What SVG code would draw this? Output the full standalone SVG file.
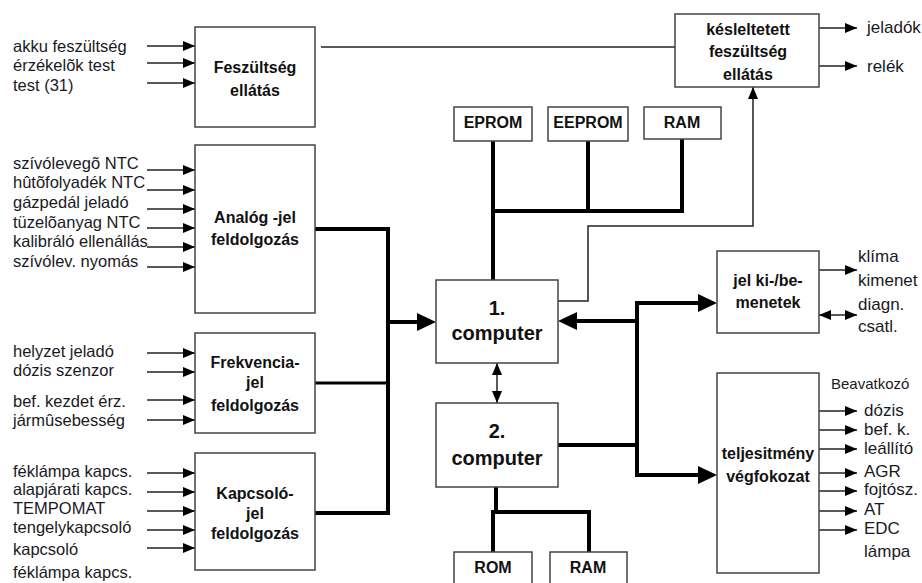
<svg xmlns="http://www.w3.org/2000/svg" width="922" height="583" viewBox="0 0 922 583">
<style>
.bg{fill:#fff}
.box{fill:#fff;stroke:#444;stroke-width:1.5}
.lbl{font-family:"Liberation Sans",Arial,sans-serif;font-size:16.5px;fill:#1a1a24}
.rl{font-family:"Liberation Sans",Arial,sans-serif;font-size:17px;fill:#1a1a24}
.bt{font-family:"Liberation Sans",Arial,sans-serif;font-size:16px;font-weight:bold;fill:#111;text-anchor:middle}
.ct{font-family:"Liberation Sans",Arial,sans-serif;font-size:20px;font-weight:bold;fill:#111;text-anchor:middle}
.thin{fill:none;stroke:#222;stroke-width:1.5}
.thick{fill:none;stroke:#000;stroke-width:4}
.med{fill:none;stroke:#000;stroke-width:3}
.sa{marker-end:url(#ah)}
.da{marker-start:url(#ah);marker-end:url(#ah)}
.ba{marker-end:url(#bh)}
</style>
<defs>
<marker id="ah" markerUnits="userSpaceOnUse" markerWidth="12" markerHeight="10" refX="12" refY="5" orient="auto-start-reverse"><path d="M0,0 L12,5 L0,10 z" fill="#000"/></marker>
<marker id="bh" markerUnits="userSpaceOnUse" markerWidth="19" markerHeight="18" refX="15" refY="9" orient="auto"><path d="M0,0 L19,9 L0,18 z" fill="#000"/></marker>
</defs>
<rect class="bg" x="0" y="0" width="922" height="583"/>

<g id="connectors">
<path class="thin sa" d="M147,46 H195"/>
<path class="thin sa" d="M147,63 H195"/>
<path class="thin sa" d="M147,83 H195"/>
<path class="thin sa" d="M147,170 H195"/>
<path class="thin sa" d="M147,190 H195"/>
<path class="thin sa" d="M147,209 H195"/>
<path class="thin sa" d="M147,228 H195"/>
<path class="thin sa" d="M147,247 H195"/>
<path class="thin sa" d="M147,267 H195"/>
<path class="thin sa" d="M147,353 H195"/>
<path class="thin sa" d="M147,372 H195"/>
<path class="thin sa" d="M147,400 H195"/>
<path class="thin sa" d="M147,420 H195"/>
<path class="thin sa" d="M147,473 H195"/>
<path class="thin sa" d="M147,492 H195"/>
<path class="thin sa" d="M147,511 H195"/>
<path class="thin sa" d="M147,530 H195"/>
<path class="thin sa" d="M147,548 H195"/>
<path class="thin" d="M321,47 H675"/>
<path class="thin sa" d="M819,28 H857"/>
<path class="thin sa" d="M819,66 H857"/>
<path class="thin sa" d="M557,301 H588 V226 H753 V87"/>
<path class="thick" d="M315,229 H388 V513 H315"/>
<path class="med" d="M315,383 H388"/>
<path class="thick ba" d="M388,322 H432"/>
<path class="thick" d="M493,141 V280 M588,141 V211 M682,139 V211 M491,211 H684"/>
<path class="thin da" d="M497,363 V403"/>
<path class="thick ba" d="M637,321 H562"/>
<path class="thick ba" d="M637,475 V303 H713"/>
<path class="thick ba" d="M558,445 H637 V475 H713"/>
<path class="thick" d="M496,487 V512 M493,552 V512 H589 V552"/>
<path class="thin sa" d="M819,270 H857"/>
<path class="thin da" d="M819,315 H857"/>
<path class="thin sa" d="M819,411 H857"/>
<path class="thin sa" d="M819,430 H857"/>
<path class="thin sa" d="M819,449 H857"/>
<path class="thin sa" d="M819,473 H857"/>
<path class="thin sa" d="M819,491 H857"/>
<path class="thin sa" d="M819,511 H857"/>
<path class="thin sa" d="M819,530 H857"/>
</g>

<g id="labels-left">
<text class="lbl" x="13" y="52">akku feszültség</text>
<text class="lbl" x="13" y="71">érzékelõk test</text>
<text class="lbl" x="13" y="91">test (31)</text>
<text class="lbl" x="13" y="169">szívólevegõ NTC</text>
<text class="lbl" x="13" y="188">hûtõfolyadék NTC</text>
<text class="lbl" x="13" y="208">gázpedál jeladó</text>
<text class="lbl" x="13" y="228">tüzelõanyag NTC</text>
<text class="lbl" x="13" y="247">kalibráló ellenállás</text>
<text class="lbl" x="13" y="267">szívólev. nyomás</text>
<text class="lbl" x="13" y="357">helyzet jeladó</text>
<text class="lbl" x="13" y="376">dózis szenzor</text>
<text class="lbl" x="13" y="407">bef. kezdet érz.</text>
<text class="lbl" x="13" y="426">jármûsebesség</text>
<text class="lbl" x="13" y="477">féklámpa kapcs.</text>
<text class="lbl" x="13" y="495">alapjárati kapcs.</text>
<text class="lbl" x="13" y="514">TEMPOMAT</text>
<text class="lbl" x="13" y="533">tengelykapcsoló</text>
<text class="lbl" x="13" y="555">kapcsoló</text>
<text class="lbl" x="13" y="578">féklámpa kapcs.</text>
</g>

<g id="feszultseg">
<rect class="box" x="195" y="27" width="120" height="100"/>
<text class="bt" x="255" y="73">Feszültség</text>
<text class="bt" x="255" y="96">ellátás</text>
</g>
<g id="analog">
<rect class="box" x="195" y="145" width="120" height="168"/>
<text class="bt" x="255" y="223">Analóg -jel</text>
<text class="bt" x="255" y="245">feldolgozás</text>
</g>
<g id="frekvencia">
<rect class="box" x="195" y="333" width="120" height="100"/>
<text class="bt" x="255" y="368">Frekvencia-</text>
<text class="bt" x="255" y="388">jel</text>
<text class="bt" x="255" y="411">feldolgozás</text>
</g>
<g id="kapcsolo">
<rect class="box" x="195" y="453" width="120" height="117"/>
<text class="bt" x="255" y="499">Kapcsoló-</text>
<text class="bt" x="255" y="519">jel</text>
<text class="bt" x="255" y="539">feldolgozás</text>
</g>
<g id="kesleltetett">
<rect class="box" x="675" y="14" width="144" height="73"/>
<text class="bt" x="748" y="35">késleltetett</text>
<text class="bt" x="748" y="57">feszültség</text>
<text class="bt" x="748" y="80">ellátás</text>
</g>
<g id="eprom">
<rect class="box" x="454" y="107" width="78" height="34"/>
<text class="bt" x="493" y="128">EPROM</text>
</g>
<g id="eeprom">
<rect class="box" x="548" y="107" width="80" height="34"/>
<text class="bt" x="588" y="128">EEPROM</text>
</g>
<g id="ram1">
<rect class="box" x="644" y="107" width="77" height="32"/>
<text class="bt" x="682" y="128">RAM</text>
</g>
<g id="computer1">
<rect class="box" x="436" y="280" width="122" height="83"/>
<text class="ct" x="497" y="315">1.</text>
<text class="ct" x="497" y="340">computer</text>
</g>
<g id="computer2">
<rect class="box" x="436" y="403" width="122" height="84"/>
<text class="ct" x="497" y="438">2.</text>
<text class="ct" x="497" y="465">computer</text>
</g>
<g id="rom">
<rect class="box" x="454" y="552" width="78" height="40"/>
<text class="bt" x="493" y="573">ROM</text>
</g>
<g id="ram2">
<rect class="box" x="550" y="552" width="77" height="40"/>
<text class="bt" x="588" y="573">RAM</text>
</g>
<g id="jelkibe">
<rect class="box" x="717" y="251" width="102" height="82"/>
<text class="bt" x="768" y="286">jel ki-/be-</text>
<text class="bt" x="768" y="308">menetek</text>
</g>
<g id="teljesitmeny">
<rect class="box" x="717" y="373" width="102" height="200"/>
<text class="bt" x="768" y="459">teljesitmény</text>
<text class="bt" x="768" y="482">végfokozat</text>
</g>

<g id="labels-right">
<text class="rl" x="867" y="33">jeladók</text>
<text class="rl" x="867" y="72">relék</text>
<text class="rl" x="858" y="262">klíma</text>
<text class="rl" x="858" y="286">kimenet</text>
<text class="rl" x="858" y="310">diagn.</text>
<text class="rl" x="858" y="332">csatl.</text>
<text class="lbl" x="831" y="389" style="font-size:15px">Beavatkozó</text>
<text class="rl" x="864" y="416">dózis</text>
<text class="rl" x="864" y="435">bef. k.</text>
<text class="rl" x="864" y="454">leállító</text>
<text class="rl" x="864" y="477">AGR</text>
<text class="rl" x="864" y="495">fojtósz.</text>
<text class="rl" x="864" y="515">AT</text>
<text class="rl" x="864" y="534">EDC</text>
<text class="rl" x="864" y="557">lámpa</text>
</g>
</svg>
